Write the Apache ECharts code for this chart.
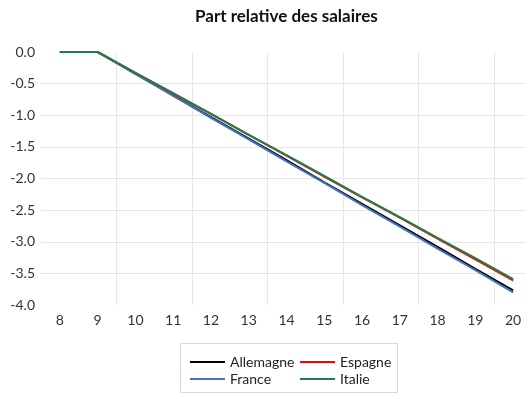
<!DOCTYPE html>
<html>
<head>
<meta charset="utf-8">
<script src="https://cdn.jsdelivr.net/npm/echarts@6/dist/echarts.min.js"></script>
<style>html,body{margin:0;padding:0;background:#fff}#c{width:526px;height:394px}</style>
</head>
<body>
<div id="c"></div>
<script>
const categories = ['8','9','10','11','12','13','14','15','16','17','18','19','20'];
const allemagne = [0, 0, -0.34, -0.69, -1.03, -1.37, -1.71, -2.06, -2.40, -2.74, -3.08, -3.43, -3.77];
const france    = [0, 0, -0.35, -0.69, -1.04, -1.38, -1.73, -2.07, -2.42, -2.76, -3.11, -3.45, -3.80];
const espagne   = [0, 0, -0.33, -0.66, -0.98, -1.31, -1.64, -1.97, -2.30, -2.62, -2.95, -3.28, -3.61];
const italie    = [0, 0, -0.33, -0.65, -0.98, -1.31, -1.63, -1.96, -2.29, -2.61, -2.94, -3.26, -3.59];
const titleText = 'Part relative des salaires';

const FONT = 'Lato';
const chart = echarts.init(document.getElementById('c'), null, {renderer: 'canvas'});
const mk = (name, data, color) => ({
  name, type: 'line', data, symbol: 'none', color,
  lineStyle: {width: 2, color}, animation: false
});
chart.setOption({
  animation: false,
  title: {text: titleText, left: 190, top: 3,
    textStyle: {fontFamily: FONT, fontSize: 17, fontWeight: 'bold', color: '#111'}},
  grid: {left: 41, top: 52, bottom: 89, width: 491, containLabel: false, outerBoundsMode: 'none'},
  xAxis: {
    type: 'category', data: categories, boundaryGap: true,
    axisLine: {show: false}, axisTick: {show: false},
    axisLabel: {fontFamily: FONT, fontSize: 14, color: '#333', margin: 8},
    splitLine: {show: true, interval: function (i) { return i > 0 && i % 2 === 0; },
      lineStyle: {color: '#e6e6e6', width: 1}}
  },
  yAxis: {
    type: 'value', min: -4, max: 0, interval: 0.5,
    axisLine: {show: false}, axisTick: {show: false},
    axisLabel: {fontFamily: FONT, fontSize: 14, color: '#333', margin: 6,
      formatter: v => v.toFixed(1)},
    splitLine: {show: true, showMinLine: false, showMaxLine: false,
      lineStyle: {color: '#e6e6e6', width: 1}}
  },
  legend: [
    {data: ['Allemagne', 'France'], orient: 'vertical', left: 185, top: 350,
     icon: 'rect', itemWidth: 35, itemHeight: 2, itemGap: 3,
     textStyle: {fontFamily: FONT, fontSize: 14, color: '#222'}},
    {data: ['Espagne', 'Italie'], orient: 'vertical', left: 295, top: 350,
     icon: 'rect', itemWidth: 35, itemHeight: 2, itemGap: 3,
     textStyle: {fontFamily: FONT, fontSize: 14, color: '#222'}}
  ],
  graphic: [{type: 'rect', shape: {x: 180.5, y: 343.5, width: 217, height: 49},
    style: {fill: 'none', stroke: '#d9d9d9', lineWidth: 1}, silent: true, z: -1}],
  series: [
    mk('Allemagne', allemagne, '#000000'),
    mk('France', france, '#4472C4'),
    mk('Espagne', espagne, '#FF0000'),
    mk('Italie', italie, '#1F7F4A')
  ]
});
</script>
</body>
</html>
